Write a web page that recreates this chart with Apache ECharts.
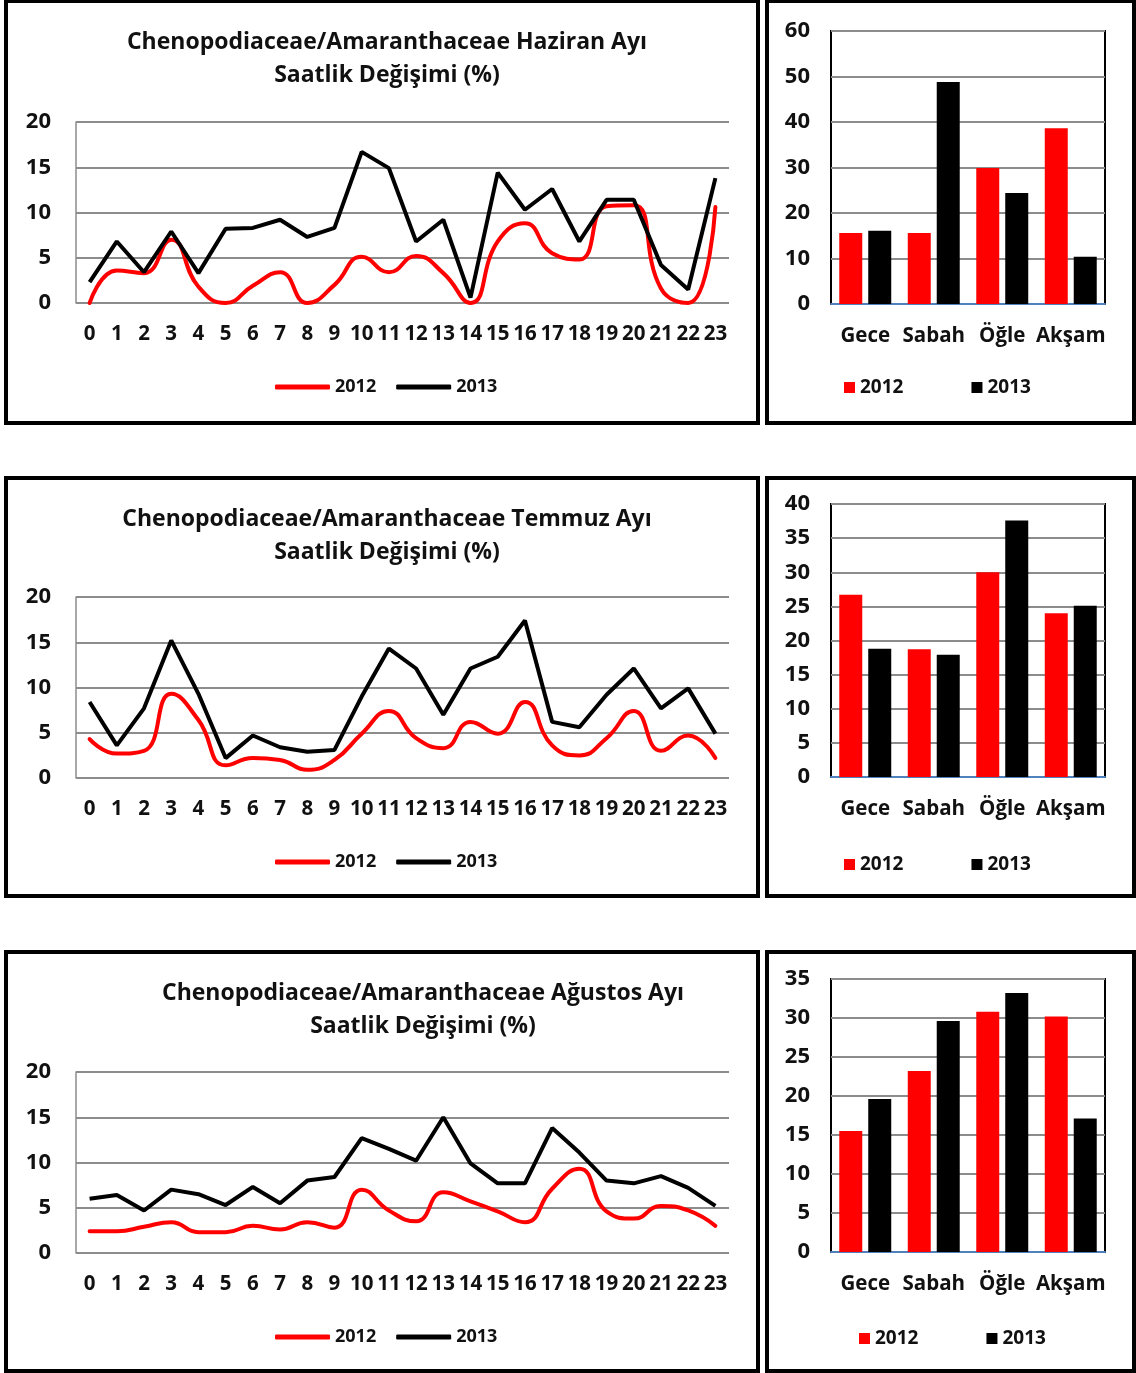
<!DOCTYPE html>
<html>
<head>
<meta charset="utf-8">
<script src="https://cdn.jsdelivr.net/npm/echarts@6/dist/echarts.min.js"></script>
<style>
  html, body { margin: 0; padding: 0; background: #fff; }
  body { width: 1136px; height: 1373px; position: relative; overflow: hidden; }
  .panel { position: absolute; box-sizing: border-box; border: 4px solid #000; background: #fff; }
</style>
</head>
<body>
<div class="panel" id="line1" style="left:4px;top:-1px;width:756px;height:426px;"></div>
<div class="panel" id="bar1" style="left:765px;top:-1px;width:371px;height:426px;"></div>
<div class="panel" id="line2" style="left:4px;top:476px;width:756px;height:422px;"></div>
<div class="panel" id="bar2" style="left:765px;top:476px;width:371px;height:422px;"></div>
<div class="panel" id="line3" style="left:4px;top:950px;width:756px;height:423px;"></div>
<div class="panel" id="bar3" style="left:765px;top:950px;width:371px;height:423px;"></div>
<script>
// saatler ve dönemler
var hours = ['0','1','2','3','4','5','6','7','8','9','10','11','12','13','14','15','16','17','18','19','20','21','22','23'];
var periods = ['Gece', 'Sabah', 'Öğle', 'Akşam'];
var years = ['2012', '2013'];

// Haziran
var haziran2012 = [0, 3.6, 3.3, 7.0, 1.8, 0, 1.9, 3.4, 0, 2.0, 5.1, 3.4, 5.2, 3.3, 0, 6.8, 8.8, 5.5, 4.8, 10.7, 10.8, 1.6, 0, 10.6];
var haziran2013 = [2.3, 6.8, 3.4, 7.9, 3.3, 8.2, 8.3, 9.2, 7.3, 8.3, 16.7, 14.9, 6.8, 9.2, 0.6, 14.4, 10.3, 12.6, 6.8, 11.4, 11.4, 4.2, 1.5, 13.8];
var haziranBar2012 = [15.6, 15.6, 29.9, 38.6];
var haziranBar2013 = [16.1, 48.8, 24.4, 10.4];

// Temmuz
var temmuz2012 = [4.3, 2.7, 3.0, 9.3, 6.4, 1.4, 2.2, 2.0, 0.9, 2.0, 4.9, 7.4, 4.4, 3.3, 6.2, 4.9, 8.4, 3.6, 2.5, 4.4, 7.4, 3.0, 4.7, 2.2];
var temmuz2013 = [8.4, 3.6, 7.7, 15.2, 9.3, 2.2, 4.7, 3.4, 2.9, 3.1, 9.0, 14.3, 12.1, 7.0, 12.1, 13.4, 17.4, 6.2, 5.6, 9.2, 12.1, 7.7, 9.9, 4.9];
var temmuzBar2012 = [26.7, 18.7, 30.0, 24.0];
var temmuzBar2013 = [18.8, 17.9, 37.6, 25.1];

// Ağustos
var agustos2012 = [2.4, 2.4, 2.9, 3.4, 2.3, 2.3, 3.0, 2.6, 3.4, 2.8, 7.0, 4.7, 3.5, 6.7, 5.7, 4.6, 3.4, 7.1, 9.3, 4.6, 3.8, 5.2, 4.7, 3.0];
var agustos2013 = [6.0, 6.4, 4.7, 7.0, 6.5, 5.3, 7.3, 5.5, 8.0, 8.4, 12.7, 11.5, 10.2, 15.0, 9.9, 7.7, 7.7, 13.8, 11.1, 8.0, 7.7, 8.5, 7.2, 5.2];
var agustosBar2012 = [15.5, 23.2, 30.8, 30.2];
var agustosBar2013 = [19.6, 29.6, 33.2, 17.1];

var FONT = '"Open Sans", "Noto Sans", sans-serif';
var GRID_GRAY = '#8c8c8c';
var TEXT = '#111';

function lineOption(title, titleLeft, gridTop, data2012, data2013) {
    return {
        animation: false,
        textStyle: { fontFamily: FONT },
        title: {
            text: title,
            left: titleLeft,
            top: 18,
            textAlign: 'center',
            textStyle: { fontFamily: FONT, fontWeight: 'bold', fontSize: 23, lineHeight: 33, color: TEXT }
        },
        legend: {
            data: years,
            left: 262,
            top: gridTop + 251,
            icon: 'roundRect',
            itemWidth: 55,
            itemHeight: 5,
            itemGap: 20,
            textStyle: { fontFamily: FONT, fontWeight: 'bold', fontSize: 18, color: TEXT }
        },
        grid: { left: 68, top: gridTop, width: 653, height: 181 },
        xAxis: {
            type: 'category',
            data: hours,
            boundaryGap: true,
            axisLine: { show: false },
            axisTick: { show: false },
            axisLabel: { interval: 0, margin: 21, fontFamily: FONT, fontWeight: 'bold', fontSize: 20.5, color: TEXT }
        },
        yAxis: {
            type: 'value',
            min: 0, max: 20, interval: 5,
            axisLine: { show: true, lineStyle: { color: GRID_GRAY, width: 1.5 } },
            axisTick: { show: false },
            splitLine: { lineStyle: { color: GRID_GRAY, width: 2 } },
            axisLabel: { margin: 25, fontFamily: FONT, fontWeight: 'bold', fontSize: 22, color: TEXT }
        },
        series: [{
            name: '2012',
            type: 'line',
            data: data2012,
            smooth: 0.5,
            showSymbol: false,
            color: '#ff0000',
            lineStyle: { width: 4, color: '#ff0000', cap: 'round' }
        }, {
            name: '2013',
            type: 'line',
            data: data2013,
            showSymbol: false,
            color: '#000000',
            lineStyle: { width: 4, color: '#000000' }
        }]
    };
}

function barOption(gridTop, max, step, legendLeft, data2012, data2013) {
    return {
        animation: false,
        textStyle: { fontFamily: FONT },
        legend: {
            data: years,
            left: legendLeft,
            top: 370,
            icon: 'rect',
            itemWidth: 11,
            itemHeight: 11,
            itemGap: 68,
            textStyle: { fontFamily: FONT, fontWeight: 'bold', fontSize: 19, color: TEXT }
        },
        grid: { left: 62, top: gridTop, width: 274, height: 273, show: true, borderColor: '#000', borderWidth: 2 },
        xAxis: {
            type: 'category',
            data: periods,
            axisLine: { show: true, lineStyle: { color: '#4f81bd', width: 2 } },
            axisTick: { show: false },
            axisLabel: { interval: 0, margin: 22, fontFamily: FONT, fontWeight: 'bold', fontSize: 20.5, color: TEXT }
        },
        yAxis: {
            type: 'value',
            min: 0, max: max, interval: step,
            axisLine: { show: false },
            axisTick: { show: false },
            splitLine: { lineStyle: { color: GRID_GRAY, width: 2 } },
            axisLabel: { margin: 21, fontFamily: FONT, fontWeight: 'bold', fontSize: 22, color: TEXT }
        },
        series: [{
            name: '2012',
            type: 'bar',
            data: data2012,
            barWidth: 23,
            barGap: '26%',
            itemStyle: { color: '#ff0000' }
        }, {
            name: '2013',
            type: 'bar',
            data: data2013,
            barWidth: 23,
            barGap: '26%',
            itemStyle: { color: '#000000' }
        }]
    };
}

var charts = [
    ['line1', lineOption('Chenopodiaceae/Amaranthaceae Haziran Ayı\nSaatlik Değişimi (%)', 374, 119, haziran2012, haziran2013)],
    ['bar1', barOption(28, 60, 10, 70, haziranBar2012, haziranBar2013)],
    ['line2', lineOption('Chenopodiaceae/Amaranthaceae Temmuz Ayı\nSaatlik Değişimi (%)', 374, 117, temmuz2012, temmuz2013)],
    ['bar2', barOption(24, 40, 5, 70, temmuzBar2012, temmuzBar2013)],
    ['line3', lineOption('Chenopodiaceae/Amaranthaceae Ağustos Ayı\nSaatlik Değişimi (%)', 410, 118, agustos2012, agustos2013)],
    ['bar3', barOption(25, 35, 5, 85, agustosBar2012, agustosBar2013)]
];

charts.forEach(function (c) {
    var chart = echarts.init(document.getElementById(c[0]), null, { renderer: 'canvas' });
    chart.setOption(c[1]);
});
</script>
</body>
</html>
